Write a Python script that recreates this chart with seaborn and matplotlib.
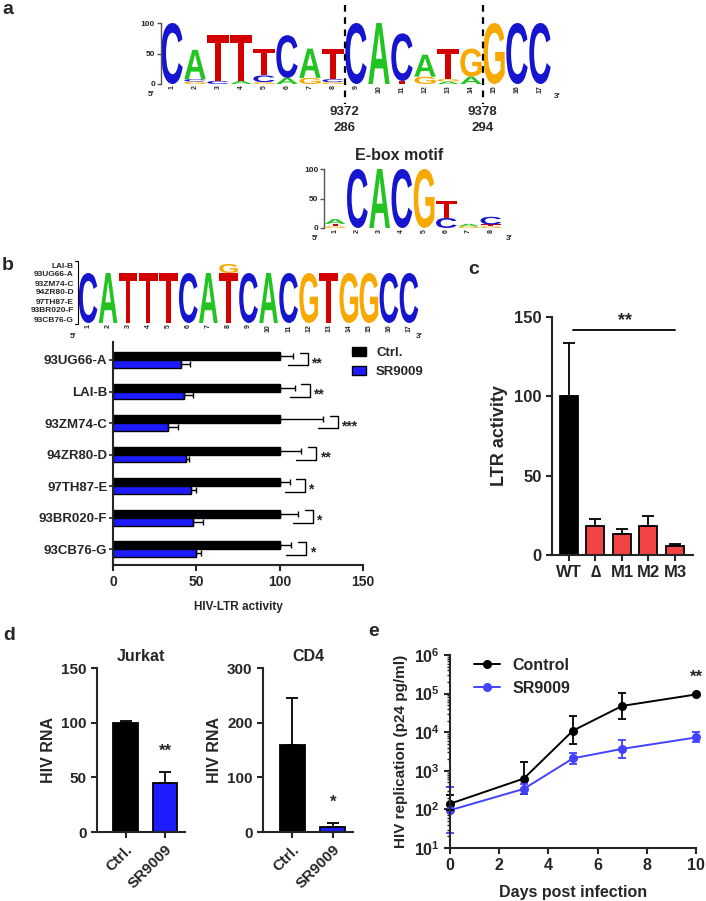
import matplotlib
matplotlib.use("Agg")
import matplotlib.pyplot as plt
import matplotlib.transforms as mtransforms
from matplotlib.font_manager import FontProperties
from matplotlib.lines import Line2D
from matplotlib.patches import PathPatch
from matplotlib.textpath import TextPath
from matplotlib.ticker import FuncFormatter, LogLocator, NullFormatter
import numpy as np
import pandas as pd
import seaborn as sns

sns.set_theme(style="ticks")
plt.rcParams["font.family"] = ["Liberation Sans", "DejaVu Sans"]
plt.rcParams["font.weight"] = "bold"
plt.rcParams["axes.labelweight"] = "bold"
plt.rcParams["axes.linewidth"] = 1.5
plt.rcParams["mathtext.fontset"] = "custom"
plt.rcParams["mathtext.bf"] = "Liberation Sans:bold"
plt.rcParams["mathtext.rm"] = "Liberation Sans:bold"

W, H = 706, 901

# ---- a: consensus logo around the E-box (stacks bottom -> top, %) ----
logo_pos = list(range(1, 18))
logo_a = [
    [("C", 100)],
    [("G", 4), ("C", 4), ("A", 48)],
    [("C", 5), ("T", 75)],
    [("A", 5), ("T", 75)],
    [("G", 3), ("C", 11), ("T", 44)],
    [("A", 10), ("C", 70)],
    [("G", 10), ("A", 48)],
    [("G", 3), ("C", 5), ("T", 50)],
    [("C", 100)],
    [("A", 100)],
    [("T", 5), ("C", 78)],
    [("G", 12), ("A", 36)],
    [("A", 4), ("G", 4), ("T", 50)],
    [("A", 12), ("G", 46)],
    [("G", 100)],
    [("C", 100)],
    [("C", 100)],
]
break_after = [8, 14]
break_hxb2 = ["9372", "9378"]
break_ltr = ["286", "294"]

ebox_pos = list(range(1, 9))
ebox_logo = [
    [("G", 3), ("T", 4), ("A", 8)],
    [("C", 100)],
    [("A", 100)],
    [("C", 100)],
    [("G", 100)],
    [("C", 17), ("T", 29)],
    [("G", 3), ("A", 4)],
    [("G", 3), ("T", 3), ("C", 13)],
]

# ---- b: strain logo + LTR activity ----
logo_b = [[(c, 100)] for c in "CATTTCATCACGTGGCC"]
logo_b[7] = [("T", 100), ("G", 18)]
logo_b_strains = ["LAI-B", "93UG66-A", "93ZM74-C", "94ZR80-D",
                  "97TH87-E", "93BR020-F", "93CB76-G"]

strains_b = ["93UG66-A", "LAI-B", "93ZM74-C", "94ZR80-D",
             "97TH87-E", "93BR020-F", "93CB76-G"]
ctrl_b = [100, 100, 100, 100, 100, 100, 100]
ctrl_err_b = [8, 9, 26, 13, 6, 11, 7]
sr_b = [41, 42.5, 33, 44, 46.5, 48, 50]
sr_err_b = [5, 5.5, 6, 1.5, 3, 6, 2.5]
stars_b = ["**", "**", "***", "**", "*", "*", "*"]

# ---- c: mutant LTRs ----
cond_c = ["WT", "\u2206", "M1", "M2", "M3"]
ltr_c = [100, 18.5, 13, 18, 5.5]
ltr_err_c = [33.5, 4, 3.5, 6.5, 1.2]

# ---- d: HIV RNA ----
groups_d = ["Ctrl.", "SR9009"]
jurkat_d = [100, 45]
jurkat_err_d = [1.5, 10]
cd4_d = [160, 9]
cd4_err_d = [86, 7]

# ---- e: replication kinetics ----
days_e = [0, 3, 5, 7, 10]
ctrl_e = [140, 630, 11000, 48000, 95000]
ctrl_lo_e = [95, 250, 5000, 22000, 95000]
ctrl_hi_e = [240, 1700, 26000, 105000, 95000]
sr_e = [95, 340, 2100, 3700, 7300]
sr_lo_e = [25, 250, 1500, 2200, 5500]
sr_hi_e = [370, 450, 2900, 6200, 10000]

BASE_COL = {"A": "#21c421", "C": "#1515d0", "G": "#f7a900", "T": "#d40000"}
BLUE = "#1c1cff"
RED = "#f24444"
LOGO_FP = FontProperties(family="Liberation Sans", weight="bold")

fig = plt.figure(figsize=(W / 100, H / 100), dpi=100)
PX = mtransforms.Affine2D().scale(1 / W, -1 / H).translate(0, 1) + fig.transFigure


def px_axes(x0, y0, x1, y1):
    return fig.add_axes([x0 / W, 1 - y1 / H, (x1 - x0) / W, (y1 - y0) / H])


def ftext(x, y, s, **kw):
    kw.setdefault("ha", "center")
    kw.setdefault("va", "center")
    return fig.text(x, y, s, transform=PX, **kw)


def draw_logo(ax, positions, stacks, width=0.93):
    for x, stack in zip(positions, stacks):
        y0 = 0
        for base, h in stack:
            tp = TextPath((0, 0), base, size=1, prop=LOGO_FP)
            bb = tp.get_extents()
            tr = (mtransforms.Affine2D().translate(-bb.x0, -bb.y0)
                  .scale(width / bb.width, h / bb.height)
                  .translate(x - width / 2, y0))
            p = PathPatch(tr.transform_path(tp), fc=BASE_COL[base], ec="none", lw=0)
            p.set_clip_on(False)
            ax.add_patch(p)
            y0 += h


def logo_axes(ax, positions, yaxis=True):
    ax.set_xlim(0.5, positions[-1] + 0.5)
    ax.set_ylim(0, 100)
    ax.set_facecolor("none")
    sns.despine(ax=ax, bottom=True, left=not yaxis)
    ax.set_xticks(positions)
    ax.set_xticklabels([str(p) for p in positions], rotation=90, fontsize=5)
    ax.tick_params(axis="x", length=0, pad=1)
    if yaxis:
        ax.spines["left"].set_color("#555555")
        ax.spines["left"].set_linewidth(1)
        ax.set_yticks([0, 50, 100])
        ax.tick_params(axis="y", labelsize=6, length=3, width=1, pad=1, color="#555555")
    else:
        ax.set_yticks([])


# panel letters
for lab, (x, y) in zip("abcde", [(8, 9), (8, 266), (474, 270), (9, 636), (374, 631)]):
    ftext(x, y, lab, fontsize=14, fontweight="bold")

# ---------------- a ----------------
ax = px_axes(160.5, 23, 551.5, 84)
draw_logo(ax, logo_pos, logo_a)
logo_axes(ax, logo_pos)
ftext(151, 95, "5\u2032", fontsize=6)
ftext(557, 97, "3\u2032", fontsize=6)
bt = mtransforms.blended_transform_factory(ax.transData, PX)
for xb, g1, g2 in zip(break_after, break_hxb2, break_ltr):
    ax.plot([xb + 0.5, xb + 0.5], [5, 104], transform=bt, color="black",
            lw=1.6, ls=(0, (3, 2.5)), clip_on=False)
    ax.text(xb + 0.5, 112, g1, transform=bt, ha="center", va="center", fontsize=9.5)
    ax.text(xb + 0.5, 128, g2, transform=bt, ha="center", va="center", fontsize=9.5)

ftext(399, 155, "E-box motif", fontsize=11.5)
ax = px_axes(324, 169, 502, 228)
draw_logo(ax, ebox_pos, ebox_logo)
logo_axes(ax, ebox_pos)
ftext(315, 238, "5\u2032", fontsize=6)
ftext(509, 239, "3\u2032", fontsize=6)

# ---------------- b ----------------
ax = px_axes(78, 273, 419, 323)
draw_logo(ax, logo_pos, logo_b)
logo_axes(ax, logo_pos, yaxis=False)
ftext(73, 336, "5\u2032", fontsize=6)
ftext(419, 336, "3\u2032", fontsize=6)
for i, s in enumerate(logo_b_strains):
    ftext(74, 266 + 9 * i, s, fontsize=6, ha="right")
fig.add_artist(Line2D([75, 78, 78, 75], [261, 261, 324, 324], transform=PX,
                      color="black", lw=0.8))

ax = px_axes(113, 342, 363, 565)
df_b = pd.DataFrame({
    "strain": strains_b * 2,
    "value": ctrl_b + sr_b,
    "group": ["Ctrl."] * len(strains_b) + ["SR9009"] * len(strains_b),
})
sns.barplot(data=df_b, x="value", y="strain", hue="group", orient="h",
            palette=["black", BLUE], saturation=1, width=0.5, edgecolor="black",
            linewidth=1, errorbar=None, ax=ax)
ypos = np.arange(len(strains_b))
for vals, errs, off in [(ctrl_b, ctrl_err_b, -0.125), (sr_b, sr_err_b, 0.125)]:
    ax.errorbar(vals, ypos + off, xerr=[np.zeros(len(vals)), errs], fmt="none",
                ecolor="black", elinewidth=1, capsize=2.5, capthick=1)
for i, (v, e, st) in enumerate(zip(ctrl_b, ctrl_err_b, stars_b)):
    xr = v + e + 9
    ax.plot([xr - 5, xr, xr, xr - 12], [i - 0.23, i - 0.23, i + 0.17, i + 0.17],
            color="black", lw=1, clip_on=False)
    ax.text(xr + 2, i + 0.1, st, ha="left", va="center", fontsize=10)
ax.set_xlim(0, 150)
ax.set_ylim(6.5, -0.57)
ax.set_xticks([0, 50, 100, 150])
ax.set_xlabel("HIV-LTR activity", fontsize=8.5, labelpad=9)
ax.set_ylabel("")
ax.tick_params(axis="y", labelsize=9.5, length=3, width=1.2, pad=1)
ax.tick_params(axis="x", labelsize=10, length=4, width=1.5, pad=3)
sns.despine(ax=ax)
sns.move_legend(ax, "upper left", bbox_to_anchor=(0.91, 1.03), frameon=False,
                title=None, fontsize=9.5, handlelength=1.0, labelspacing=0.5)

# ---------------- c ----------------
ax = px_axes(552, 317, 693, 555)
sns.barplot(x=cond_c, y=ltr_c, hue=cond_c, legend=False,
            palette=["black"] + [RED] * 4, saturation=1, width=0.68,
            edgecolor="black", linewidth=1.3, ax=ax)
ax.errorbar(range(len(cond_c)), ltr_c, yerr=[np.zeros(len(cond_c)), ltr_err_c],
            fmt="none", ecolor="black", elinewidth=1.3, capsize=4, capthick=1.3)
ax.set_xlim(-0.64, 4.68)
ax.set_ylim(0, 150)
ax.set_yticks([0, 50, 100, 150])
ax.set_ylabel("LTR activity", fontsize=13, labelpad=4)
ax.tick_params(axis="both", labelsize=12, length=4, width=1.5)
ax.plot([0.15, 4], [142, 142], color="black", lw=1.3, clip_on=False)
ax.text(2.1, 142.5, "**", ha="center", va="bottom", fontsize=13)
sns.despine(ax=ax)

# ---------------- d ----------------
for (x0, x1), title, vals, errs, ymax, star, sy in [
        ((97, 185), "Jurkat", jurkat_d, jurkat_err_d, 150, "**", 67),
        ((263, 353), "CD4", cd4_d, cd4_err_d, 300, "*", 40)]:
    ax = px_axes(x0, 668, x1, 832)
    sns.barplot(x=groups_d, y=vals, hue=groups_d, legend=False,
                palette=["black", BLUE], saturation=1, width=0.62,
                edgecolor="black", linewidth=1.3, ax=ax)
    ax.errorbar([0, 1], vals, yerr=[np.zeros(2), errs], fmt="none",
                ecolor="black", elinewidth=1.3, capsize=4, capthick=1.3)
    ax.set_xlim(-0.72, 1.5)
    ax.set_ylim(0, ymax)
    ax.set_yticks(np.linspace(0, ymax, 4))
    ax.set_title(title, fontsize=11.5, fontweight="bold", pad=5)
    ax.set_ylabel("HIV RNA", fontsize=11.5, labelpad=4)
    ax.text(1, sy, star, ha="center", va="bottom", fontsize=12)
    ax.tick_params(axis="both", labelsize=11, length=4, width=1.5)
    plt.setp(ax.get_xticklabels(), rotation=45, ha="right", rotation_mode="anchor")
    sns.despine(ax=ax)

# ---------------- e ----------------
ax = px_axes(450, 655, 696, 848)
df_e = pd.DataFrame({
    "day": days_e * 2,
    "p24": ctrl_e + sr_e,
    "group": ["Control"] * len(days_e) + ["SR9009"] * len(days_e),
})
pal_e = {"Control": "black", "SR9009": "#4242ff"}
sns.lineplot(data=df_e, x="day", y="p24", hue="group", palette=pal_e,
             marker="o", markersize=6.5, markeredgewidth=0, linewidth=1.4,
             errorbar=None, ax=ax, clip_on=False)
for vals, lo, hi, grp in [(ctrl_e, ctrl_lo_e, ctrl_hi_e, "Control"),
                          (sr_e, sr_lo_e, sr_hi_e, "SR9009")]:
    v = np.array(vals, float)
    cont = ax.errorbar(days_e, v, yerr=[v - np.array(lo), np.array(hi) - v],
                       fmt="none", ecolor=pal_e[grp], elinewidth=1.3,
                       capsize=3, capthick=1.3)
    for art in cont.get_children():
        art.set_clip_on(False)
ax.set_yscale("log")
ax.set_ylim(10, 1e6)
ax.set_xlim(0, 10)
ax.set_xticks([0, 2, 4, 6, 8, 10])
ax.yaxis.set_major_locator(LogLocator(base=10, numticks=10))
ax.yaxis.set_major_formatter(FuncFormatter(
    lambda v, p: r"$\mathbf{10^{%d}}$" % int(round(np.log10(v)))))
ax.yaxis.set_minor_locator(LogLocator(base=10, subs=np.arange(2, 10), numticks=12))
ax.yaxis.set_minor_formatter(NullFormatter())
ax.set_xlabel("Days post infection", fontsize=11.5, labelpad=8)
ax.set_ylabel("HIV replication (p24 pg/ml)", fontsize=11, labelpad=4)
ax.tick_params(axis="both", which="major", labelsize=11.5, length=4, width=1.5)
ax.tick_params(axis="y", which="minor", length=2.5, width=1)
ax.text(10, 2.6e5, "**", ha="center", va="center", fontsize=12)
sns.despine(ax=ax)
sns.move_legend(ax, "upper left", bbox_to_anchor=(0.04, 1.06), frameon=False,
                title=None, fontsize=11.5, handlelength=1.6, labelspacing=0.5)

fig.savefig("out.png", dpi=100)
